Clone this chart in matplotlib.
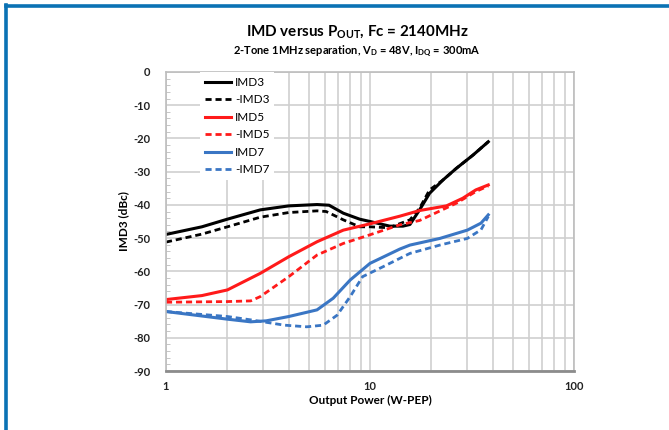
import matplotlib
matplotlib.use("Agg")
import matplotlib.pyplot as plt
from matplotlib.lines import Line2D
from matplotlib.ticker import MultipleLocator, LogLocator, NullFormatter

plt.rcParams['font.family'] = ['Lato', 'DejaVu Sans']
plt.rcParams['mathtext.fontset'] = 'custom'
plt.rcParams['mathtext.rm'] = 'Lato'
plt.rcParams['mathtext.bf'] = 'Lato:bold'
plt.rcParams['axes.unicode_minus'] = False

# IMD data (Pout in W-PEP, level in dBc)
p_imd3 = [1, 1.5, 2, 2.9, 4, 5.5, 6.3, 7.4, 8.9, 10, 12.5, 14.5, 15.7, 17.5, 19.6, 22.8, 26.5, 32, 38]
imd3 = [-48.9, -46.6, -44.3, -41.5, -40.3, -39.9, -40.1, -42.5, -44.3, -45.0, -46.4, -46.4, -45.9, -41.5, -36.5, -32.5, -29, -25, -21]

p_nimd3 = [1, 1.5, 2, 2.9, 4, 5.5, 6.1, 7.4, 8.9, 10, 11.6, 12.5, 15.7, 17.5, 19.6, 22.8, 26.5, 32, 38]
nimd3 = [-51.2, -48.8, -46.6, -43.7, -42.3, -41.8, -42.0, -44.5, -46.6, -46.6, -46.8, -46.8, -44.5, -41, -35.5, -32.5, -29, -25, -21]

p_imd5 = [1, 1.5, 2, 2.9, 4, 5.5, 7.4, 10, 14, 17.5, 23.7, 28.5, 33, 38]
imd5 = [-68.5, -67.3, -65.6, -60.6, -55.6, -51.1, -47.6, -45.7, -43.4, -41.7, -40.3, -38, -35.5, -34]

p_nimd5 = [1, 2, 2.6, 2.9, 4, 5.5, 7.4, 10, 14, 17.5, 26.5, 33, 38]
nimd5 = [-69.3, -69.1, -68.9, -67.6, -61.6, -55.1, -51.6, -49.0, -46.0, -44.7, -39.5, -36, -34.3]

p_imd7 = [1, 2, 2.6, 3.1, 4, 5.5, 6.6, 8, 10, 14, 15.7, 22, 30, 35, 38]
imd7 = [-72.1, -74.4, -75.2, -74.9, -73.6, -71.6, -68.1, -62.6, -57.6, -53.3, -52.1, -50.1, -47.6, -45.5, -43]

p_nimd7 = [1, 2, 2.6, 3.8, 4.9, 5.9, 6.9, 8, 9.2, 11.6, 14, 15.7, 22, 30, 35, 38]
nimd7 = [-72.1, -73.6, -74.6, -76.2, -76.7, -76.2, -73.2, -67.6, -61.6, -58.6, -56.1, -54.6, -52.1, -50.1, -47.5, -43.5]

blue = '#3a76c4'
red = '#ff1a1a'
dash = (0, (2.2, 1.4))

fig = plt.figure(figsize=(6.69, 4.30), dpi=100)
ax = fig.add_axes([0.2481, 0.1372, 0.6099, 0.6954])

ax.plot(p_imd3, imd3, color='black', lw=2.2, label='IMD3')
ax.plot(p_nimd3, nimd3, color='black', lw=2.0, ls=dash, label='-IMD3')
ax.plot(p_imd5, imd5, color=red, lw=2.2, label='IMD5')
ax.plot(p_nimd5, nimd5, color=red, lw=2.0, ls=dash, label='-IMD5')
ax.plot(p_imd7, imd7, color=blue, lw=2.2, label='IMD7')
ax.plot(p_nimd7, nimd7, color=blue, lw=2.0, ls=dash, label='-IMD7')

ax.set_xscale('log')
ax.set_xlim(1, 100)
ax.set_ylim(-90, 0)
ax.yaxis.set_major_locator(MultipleLocator(10))
ax.yaxis.set_minor_locator(MultipleLocator(2))
ax.xaxis.set_major_locator(LogLocator(base=10))
ax.xaxis.set_minor_locator(LogLocator(base=10, subs=range(2, 10)))
ax.xaxis.set_minor_formatter(NullFormatter())
ax.set_xticks([1, 10, 100])
ax.set_xticklabels(['1', '10', '100'])

ax.grid(True, which='major', axis='both', color='#cfcfcf', lw=1.2)
ax.grid(True, which='minor', axis='x', color='#cfcfcf', lw=1.2)
ax.set_axisbelow(True)

for s in ['top', 'right', 'left']:
    ax.spines[s].set_color('#bdbdbd')
    ax.spines[s].set_linewidth(1.2)
ax.spines['bottom'].set_color('#8c8c8c')
ax.spines['bottom'].set_linewidth(2.0)

ax.tick_params(axis='both', which='both', length=0, labelsize=8, colors='#222222')
ax.tick_params(axis='y', which='major', pad=11)
ax.tick_params(axis='y', which='minor', length=3, direction='in', color='#bdbdbd', left=True)
ax.tick_params(axis='x', which='major', pad=7)
for lbl in ax.get_xticklabels() + ax.get_yticklabels():
    lbl.set_fontweight('bold')

ax.set_xlabel('Output Power (W-PEP)', fontsize=8.5, fontweight='bold', labelpad=2)
ax.set_ylabel('IMD3 (dBc)', fontsize=8.5, fontweight='bold')
ax.yaxis.set_label_coords(-0.09, 0.5)

leg = ax.legend(loc='upper left', bbox_to_anchor=(0.084, 1.0), borderaxespad=0,
                frameon=True, fancybox=False, edgecolor='none', facecolor='white',
                framealpha=1, fontsize=8.5, handlelength=2.2, handletextpad=0.35,
                labelspacing=0.55, borderpad=0.4)

fig.text(0.534, 0.925, r'IMD versus P$_{\mathbf{OUT}}$, Fc = 2140MHz',
         ha='center', va='center', fontsize=10.9, fontweight='bold')
fig.text(0.534, 0.88, r'2-Tone 1MHz separation, V$_{\mathbf{D}}$ = 48V, I$_{\mathbf{DQ}}$ = 300mA',
         ha='center', va='center', fontsize=8, fontweight='bold')

# blue frame around the figure (top and left edges visible)
border = '#0a72b4'
fig.add_artist(Line2D([5.5 / 669, 1.0], [1 - 5.5 / 430] * 2, transform=fig.transFigure,
                      color=border, lw=2.6))
fig.add_artist(Line2D([5.5 / 669] * 2, [0.0, 1 - 4.5 / 430], transform=fig.transFigure,
                      color=border, lw=2.6))

fig.savefig('out.png', dpi=100)
